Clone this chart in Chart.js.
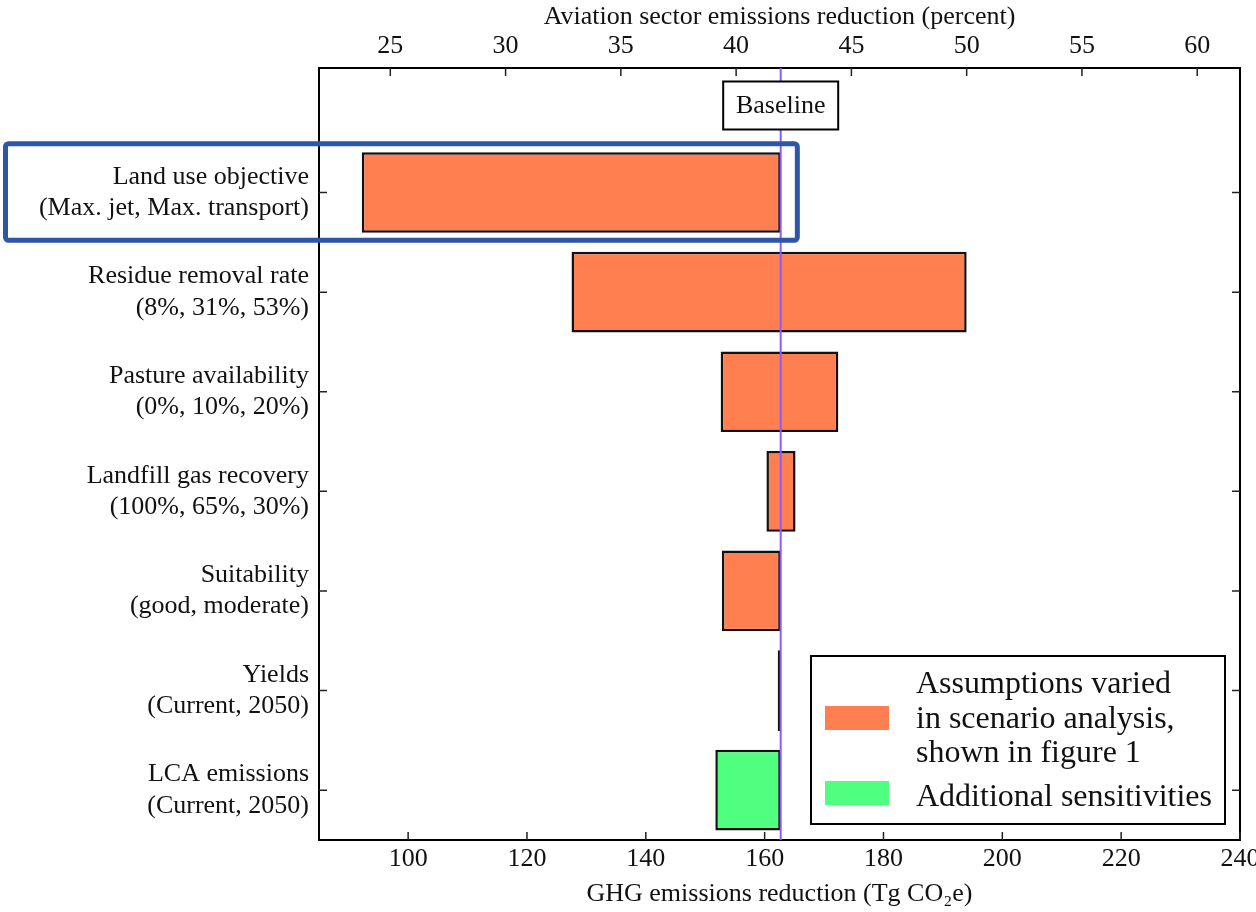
<!DOCTYPE html>
<html>
<head>
<meta charset="utf-8">
<title>Aviation emissions reduction sensitivity</title>
<script src="https://cdn.jsdelivr.net/npm/chart.js@4.4.1/dist/chart.umd.min.js"></script>
<style>
    html, body { margin: 0; padding: 0; background: #fff; }
    #wrap { width: 1256px; height: 912px; position: relative; }
</style>
</head>
<body>
<div id="wrap"><canvas id="tornado"></canvas></div>
<script>
// Sensitivity rows, top to bottom
const factorNames = ['Land use objective', 'Residue removal rate', 'Pasture availability',
    'Landfill gas recovery', 'Suitability', 'Yields', 'LCA emissions'];
const factorCases = ['(Max. jet, Max. transport)', '(8%, 31%, 53%)', '(0%, 10%, 20%)',
    '(100%, 65%, 30%)', '(good, moderate)', '(Current, 2050)', '(Current, 2050)'];

// GHG emissions reduction range per row (Tg CO2e)
const lowValues  = [92.2, 127.5, 152.6, 160.3, 152.8, 162.2, 151.7];
const highValues = [162.7, 194.0, 172.4, 165.2, 162.7, 162.7, 162.7];
// 0 = varied in scenario analysis, 1 = additional sensitivity
const rowGroup = [0, 0, 0, 0, 0, 1, 1];
const groupLabels = [
    ['Assumptions varied', 'in scenario analysis,', 'shown in figure 1'],
    ['Additional sensitivities']
];
const groupColors = ['#ff7f50', '#50ff7f'];

const baselineValue = 162.7;
const tgPerPercent = 3.88; // Tg CO2e per percent of aviation sector emissions

const ghgTicks = [100, 120, 140, 160, 180, 200, 220, 240];
const percentTicks = [25, 30, 35, 40, 45, 50, 55, 60];

// highlighted row (blue box) and where the box ends on the Tg axis
const highlightRow = 0;
const highlightEnd = 165.5;

const FONT = 'Liberation Serif';
const INK = '#111';

function groupData(g) {
    const out = [];
    factorNames.forEach((name, i) => {
        if (rowGroup[i] === g) out.push({ x: [lowValues[i], highValues[i]], y: i });
    });
    return out;
}

const decorations = {
    id: 'decorations',
    afterDatasetsDraw(chart) {
        const { ctx, chartArea: a, scales } = chart;
        const xs = scales.x, xt = scales.x2, ys = scales.y;
        ctx.save();

        // frame
        ctx.strokeStyle = '#000';
        ctx.lineWidth = 2;
        ctx.strokeRect(a.left, a.top, a.right - a.left, a.bottom - a.top);

        // inward tick marks
        ctx.lineWidth = 1.5;
        ctx.strokeStyle = '#222';
        ctx.beginPath();
        ghgTicks.forEach(v => {
            const px = xs.getPixelForValue(v);
            ctx.moveTo(px, a.bottom); ctx.lineTo(px, a.bottom - 8);
        });
        percentTicks.forEach(v => {
            const px = xt.getPixelForValue(v);
            ctx.moveTo(px, a.top); ctx.lineTo(px, a.top + 8);
        });
        factorNames.forEach((n, i) => {
            const py = ys.getPixelForValue(i);
            ctx.moveTo(a.left, py); ctx.lineTo(a.left + 8, py);
            ctx.moveTo(a.right, py); ctx.lineTo(a.right - 8, py);
        });
        ctx.stroke();

        // baseline
        const bx = xs.getPixelForValue(baselineValue);
        ctx.strokeStyle = '#8a5cff';
        ctx.lineWidth = 2;
        ctx.beginPath();
        ctx.moveTo(bx, a.top); ctx.lineTo(bx, a.bottom);
        ctx.stroke();

        // baseline label
        const bw = 115, bh = 48, btop = a.top + 13.5;
        ctx.fillStyle = '#fff';
        ctx.fillRect(bx - bw / 2, btop, bw, bh);
        ctx.strokeStyle = '#000';
        ctx.lineWidth = 2;
        ctx.strokeRect(bx - bw / 2, btop, bw, bh);
        ctx.fillStyle = INK;
        ctx.font = '26px "' + FONT + '"';
        ctx.textAlign = 'center';
        ctx.textBaseline = 'middle';
        ctx.fillText('Baseline', bx, btop + bh / 2 + 1);

        // legend
        const lx = 811, lr = a.right - 15, lb = a.bottom - 16, lt = lb - 168;
        ctx.fillStyle = '#fff';
        ctx.fillRect(lx, lt, lr - lx, lb - lt);
        ctx.strokeRect(lx, lt, lr - lx, lb - lt);
        ctx.font = '32px "' + FONT + '"';
        ctx.textAlign = 'left';
        ctx.textBaseline = 'middle';
        const lineGap = 34.5;
        const blocks = [{ first: lt + 29, patch: lt + 62 }, { first: lt + 142, patch: lt + 137 }];
        groupLabels.forEach((lines, g) => {
            ctx.fillStyle = groupColors[g];
            ctx.fillRect(lx + 14, blocks[g].patch - 12, 64, 24);
            ctx.fillStyle = INK;
            lines.forEach((t, k) => ctx.fillText(t, lx + 105, blocks[g].first + k * lineGap));
        });

        // highlight box around one row
        const hy0 = ys.getPixelForValue(highlightRow - 0.49);
        const hy1 = ys.getPixelForValue(highlightRow + 0.48);
        const hx1 = xs.getPixelForValue(highlightEnd);
        ctx.strokeStyle = '#2f56a6';
        ctx.lineWidth = 5;
        ctx.beginPath();
        ctx.roundRect(5.5, hy0, hx1 - 5.5, hy1 - hy0, 3);
        ctx.stroke();

        ctx.restore();
    }
};

const tickFont = { family: FONT, size: 26 };
const noGrid = { display: false, drawTicks: false };

new Chart(document.getElementById('tornado'), {
    type: 'bar',
    data: {
        datasets: groupLabels.map((lines, g) => ({
            label: lines.join(' '),
            data: groupData(g),
            backgroundColor: groupColors[g],
            borderColor: INK,
            borderWidth: 2.5,
            borderSkipped: false,
            grouped: false,
            categoryPercentage: 1,
            barPercentage: 0.81,
            xAxisID: 'x',
            yAxisID: 'y'
        }))
    },
    options: {
        indexAxis: 'y',
        responsive: true,
        maintainAspectRatio: false,
        animation: false,
        layout: { padding: { left: 0, right: 16, top: 0, bottom: 0 } },
        plugins: {
            legend: { display: false },
            tooltip: { enabled: false }
        },
        scales: {
            x: {
                type: 'linear',
                position: 'bottom',
                min: 85,
                max: 240,
                afterBuildTicks: s => { s.ticks = ghgTicks.map(v => ({ value: v })); },
                afterFit: s => { s.height = 72; s.paddingLeft = 0; s.paddingRight = 0; },
                grid: noGrid,
                border: { display: false },
                ticks: { font: tickFont, color: INK, padding: 4, maxRotation: 0, autoSkip: false },
                title: {
                    display: true,
                    text: 'GHG emissions reduction (Tg CO\u2082e)',
                    font: tickFont,
                    color: INK,
                    padding: { top: 0, bottom: 2 }
                }
            },
            x2: {
                type: 'linear',
                position: 'top',
                min: 85 / tgPerPercent,
                max: 240 / tgPerPercent,
                afterBuildTicks: s => { s.ticks = percentTicks.map(v => ({ value: v })); },
                afterFit: s => { s.height = 68; s.paddingLeft = 0; s.paddingRight = 0; },
                grid: noGrid,
                border: { display: false },
                ticks: { font: tickFont, color: INK, padding: 6, maxRotation: 0, autoSkip: false },
                title: {
                    display: true,
                    text: 'Aviation sector emissions reduction (percent)',
                    font: tickFont,
                    color: INK,
                    padding: { top: 2, bottom: 0 }
                }
            },
            y: {
                type: 'linear',
                min: -1.25,
                max: 6.5,
                reverse: true,
                offset: false,
                afterBuildTicks: s => { s.ticks = factorNames.map((n, i) => ({ value: i })); },
                afterFit: s => { s.width = 319; s.paddingTop = 0; s.paddingBottom = 0; },
                grid: noGrid,
                border: { display: false },
                ticks: {
                    font: { family: FONT, size: 26, lineHeight: 1.2 },
                    color: INK,
                    padding: 10,
                    autoSkip: false,
                    callback: v => [factorNames[v], factorCases[v]]
                }
            }
        }
    },
    plugins: [decorations]
});
</script>
</body>
</html>
